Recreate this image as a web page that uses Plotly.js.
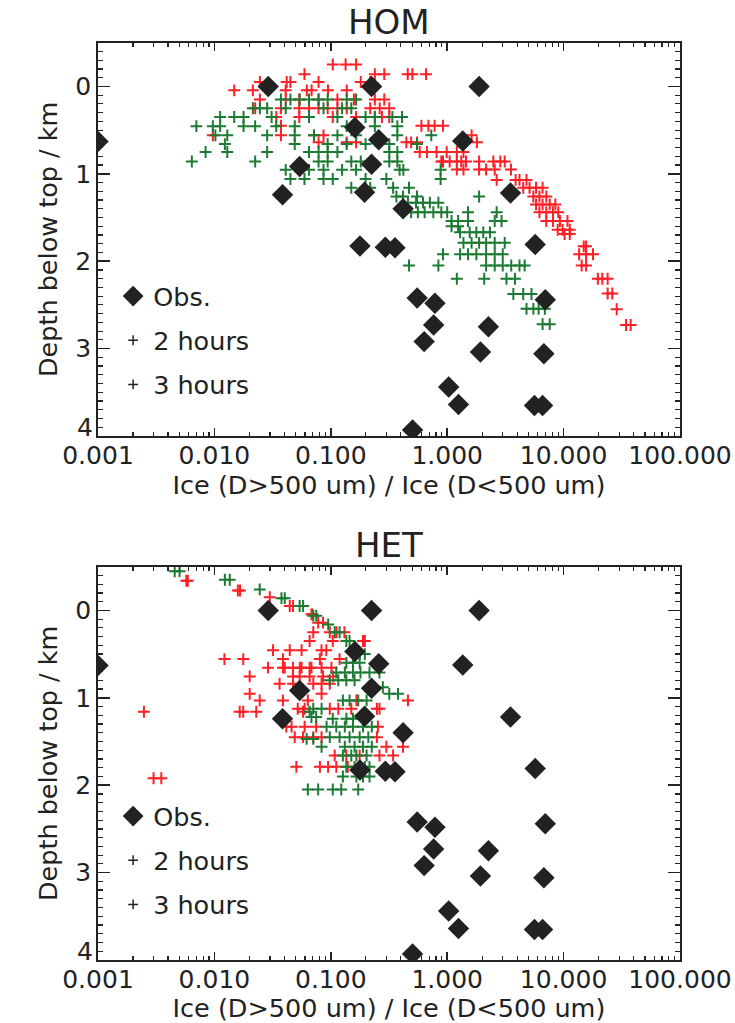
<!DOCTYPE html>
<html>
<head>
<meta charset="utf-8">
<script src="https://cdn.plot.ly/plotly-3.0.1.min.js"></script>
<style>html,body{margin:0;padding:0;background:#fff;}#chart{width:735px;height:1023px;}#err{position:absolute;left:0;top:0;font:11px monospace;color:#c00;white-space:pre-wrap;width:735px;}</style>
</head>
<body>
<div id="chart"></div>
<div id="err"></div>
<script>
window.onerror = function(m, s, l, c, e) { document.getElementById("err").textContent += "ERR: " + m + " @" + l + ":" + c + "\n"; };
// ---------- data ----------
const xTickVals = [0.001, 0.01, 0.1, 1, 10, 100];
const xTickText = ["0.001", "0.010", "0.100", "1.000", "10.000", "100.000"];
const yTickVals = [0, 1, 2, 3, 4];
const yTickText = ["0", "1", "2", "3", ""];
const yLastTickText = "4";
const panelTitles = ["HOM", "HET"];
const seriesNames = ["Obs.", "2 hours", "3 hours"];

// observations (same in both panels)
const obsRatio = [0.029,0.224,1.88,0.001,0.161,0.258,1.36,0.224,0.054,0.0385,0.195,3.5,0.418,0.178,0.294,0.356,5.7,0.552,0.785,6.96,0.765,2.26,0.634,1.93,6.77,1.03,1.25,5.62,6.6,0.504];
const obsDepth = [0,0,0,0.63,0.47,0.61,0.625,0.89,0.917,1.24,1.21,1.22,1.40,1.826,1.84,1.845,1.81,2.42,2.48,2.44,2.73,2.75,2.92,3.04,3.06,3.44,3.64,3.65,3.65,3.93];

// HOM, 2 hours (red): model levels and ratios at each level
const homRedLevels = [-0.25,-0.14,-0.05,0.045,0.15,0.25,0.35,0.45,0.56,0.64,0.75,0.86,0.95,1.07,1.16,1.26,1.35,1.44,1.54,1.64,1.69,1.83,1.92,2.05,2.2,2.37,2.55,2.73];
const homRedRatios = [
  [0.104,0.134,0.165],
  [0.0594,0.239,0.288,0.458,0.502,0.658],
  [0.0246,0.0418,0.045,0.0785,0.181,0.218],
  [0.0148,0.0214,0.041,0.0622,0.0684,0.0946,0.137],
  [0.0246,0.041,0.0536,0.0785,0.114,0.158,0.239,0.288],
  [0.0224,0.0373,0.0536,0.065,0.0785,0.094,0.114,0.137,0.218,0.263,0.318],
  [0.034,0.0536,0.104,0.165,0.239,0.275,0.318],
  [0.0373,0.6,0.69,0.78,0.92],
  [0.0097,0.0373,0.0717,0.0866,1.62],
  [0.0785,0.137,0.165,0.446,0.49,0.55,1.8],
  [0.58,0.67,0.81,0.99,1.21,1.38],
  [0.89,0.92,1.05,1.21,1.32,1.45,1.88,2.49,2.86,3.12],
  [1.21,1.38,1.88,2.16,2.56,3.53],
  [2.66,3.87,4.18,4.8],
  [4.5,5.1,5.8,6.6],
  [5.5,6.2,7.1],
  [5.8,6.6,7.6,8.5],
  [6.2,7.1,8.1,9.0],
  [7.1,8.1,9.3,10.8],
  [8.9,9.8,11.3],
  [10.2,11.3],
  [14.9,15.6],
  [13.6,15.6,17.9],
  [14.3,15.6],
  [19.7,21.5,23.9],
  [23.9,26.2],
  [28.6],
  [34.4,37.7]
];

// HOM, 3 hours (green)
const homGreenLevels = [0.15,0.25,0.35,0.455,0.56,0.66,0.75,0.86,0.955,1.06,1.16,1.26,1.33,1.44,1.54,1.6,1.67,1.79,1.92,2.05,2.2,2.375,2.545,2.72];
const homGreenRatios = [
  [0.0373,0.045,0.054,0.065,0.0785,0.094,0.137,0.165],
  [0.0214,0.0246,0.0284,0.041,0.0866,0.125,0.15],
  [0.0112,0.0148,0.0178,0.031,0.065,0.114,0.199,0.239,0.338,0.409],
  [0.007,0.0097,0.0112,0.0178,0.0224,0.034,0.049,0.137,0.239,0.373],
  [0.0102,0.0129,0.0284,0.049,0.0717,0.114,0.165,0.373,0.73],
  [0.0123,0.049,0.094,0.137,0.199,0.318,0.55],
  [0.0084,0.0129,0.0284,0.065,0.0785,0.094,0.114,0.318,0.373],
  [0.0064,0.0224,0.0785,0.094,0.15,0.181,0.318,0.373],
  [0.041,0.065,0.0866,0.125,0.165,0.39,0.42,0.878],
  [0.045,0.0594,0.0866,0.104,0.199,0.3,0.878],
  [0.15,0.218,0.343,0.47],
  [0.366,0.417,0.55,1.88],
  [0.46,0.54,0.62,0.71,0.84],
  [0.49,0.56,0.64,0.76,0.89,1.0,1.51,2.66],
  [1.09,1.24,1.51,2.56,2.93],
  [1.09,1.24],
  [1.29,1.56,1.78,2.04,2.33],
  [1.38,1.62,1.88,2.16,2.56,3.12],
  [0.92,1.29,1.51,1.78,2.16,2.56,3.0],
  [0.47,0.84,2.16,2.56,3.0,3.55,4.18,4.63],
  [1.21,2.08,3.23,3.82],
  [3.7,4.5,5.3],
  [4.8,5.5,6.1,6.9],
  [6.6,7.6]
];

// HET, 2 hours (red)
const hetRedLevels = [-0.34,-0.227,-0.15,-0.05,0.045,0.14,0.25,0.35,0.455,0.557,0.655,0.755,0.84,0.955,1.03,1.125,1.16,1.33,1.45,1.56,1.66,1.79,1.92];
const hetRedRatios = [
  [0.00574,0.0059],
  [0.0159,0.0166],
  [0.0299],
  [0.0444,0.0474],
  [0.0682,0.0696],
  [0.0779,0.0858],
  [0.0707,0.098,0.112,0.131],
  [0.0658,0.104,0.189,0.196],
  [0.0319,0.0444,0.0561,0.0832,0.0915],
  [0.0122,0.0177,0.0388,0.0806,0.119],
  [0.0289,0.0388,0.0402,0.0474,0.0542,0.0561,0.0658,0.0682,0.0833,0.1013],
  [0.0201,0.0474,0.054,0.0658,0.0858,0.1047],
  [0.0363,0.0474,0.0707,0.0833,0.098],
  [0.0201,0.0833],
  [0.0245,0.0388,0.0635,0.166,0.46],
  [0.052,0.0596,0.098,0.116,0.15,0.249,0.262],
  [0.00248,0.0165,0.0177,0.0229,0.0578],
  [0.0415,0.046,0.0596,0.0749,0.254],
  [0.049,0.0578,0.0707,0.0833,0.249],
  [0.3,0.417],
  [0.108,0.136,0.177,0.262,0.343],
  [0.0506,0.0806,0.0948,0.1115,0.14],
  [0.003,0.0035]
];

// HET, 3 hours (green)
const hetGreenLevels = [-0.447,-0.35,-0.24,-0.14,-0.05,0.06,0.16,0.25,0.35,0.5,0.6,0.71,0.8,0.88,0.955,1.03,1.125,1.16,1.22,1.24,1.33,1.45,1.47,1.56,1.66,1.79,1.9,2.05];
const hetGreenRatios = [
  [0.00456,0.00502],
  [0.0123,0.01355],
  [0.0245],
  [0.0377,0.0402],
  [0.054,0.0578],
  [0.0707,0.075],
  [0.095],
  [0.108,0.119],
  [0.136,0.145],
  [0.16,0.177,0.196],
  [0.136,0.155,0.177],
  [0.1115,0.132,0.155,0.18,0.215,0.262],
  [0.098,0.116,0.136,0.16],
  [0.28],
  [0.318,0.378],
  [0.127,0.145,0.172,0.203],
  [0.0707,0.0833],
  [0.0658],
  [0.0682,0.0749],
  [0.104,0.136,0.155,0.196],
  [0.092,0.1115,0.132,0.155,0.189,0.225],
  [0.098,0.119,0.145,0.177,0.21],
  [0.062,0.0707],
  [0.0833,0.132,0.16,0.189,0.225],
  [0.127,0.15,0.166,0.203],
  [0.136,0.16,0.196,0.215],
  [0.127,0.166,0.189,0.215],
  [0.0635,0.0779,0.104,0.123,0.172]
];

// ---------- helpers ----------
function flatten(levels, rows) {
  const x = [], y = [];
  rows.forEach((r, i) => r.forEach(v => { x.push(v); y.push(levels[i]); }));
  return {x, y};
}

const FONT = "DejaVu Sans, Liberation Sans, Arial, sans-serif";
const INK = "#222222";
const RED = "#ff1f26";
const GREEN = "#1d7a33";

function plusTrace(d, color, xa, ya) {
  return {type: "scatter", mode: "markers", x: d.x, y: d.y, xaxis: xa, yaxis: ya,
    showlegend: false, hoverinfo: "x+y",
    marker: {symbol: "cross-thin", size: 8.5, color: color, line: {color: color, width: 2}}};
}
function obsTrace(xa, ya, leg) {
  return {type: "scatter", mode: "markers", x: obsRatio, y: obsDepth, xaxis: xa, yaxis: ya,
    name: seriesNames[0], legend: leg, legendgroup: leg + "a",
    marker: {symbol: "diamond", size: 16.5, color: INK}};
}
function legendPlus(name, xa, ya, leg, g) {
  return {type: "scatter", mode: "markers", x: [null], y: [null], xaxis: xa, yaxis: ya,
    name: name, legend: leg, legendgroup: leg + g,
    marker: {symbol: "cross-thin", size: 7, color: INK, line: {color: INK, width: 1.5}}};
}

const homRed = flatten(homRedLevels, homRedRatios);
const homGreen = flatten(homGreenLevels, homGreenRatios);
const hetRed = flatten(hetRedLevels, hetRedRatios);
const hetGreen = flatten(hetGreenLevels, hetGreenRatios);

const traces = [
  plusTrace(homRed, RED, "x", "y"),
  plusTrace(homGreen, GREEN, "x", "y"),
  obsTrace("x", "y", "legend"),
  legendPlus(seriesNames[1], "x", "y", "legend", "b"),
  legendPlus(seriesNames[2], "x", "y", "legend", "c"),
  plusTrace(hetRed, RED, "x2", "y2"),
  plusTrace(hetGreen, GREEN, "x2", "y2"),
  obsTrace("x2", "y2", "legend2"),
  legendPlus(seriesNames[1], "x2", "y2", "legend2", "b"),
  legendPlus(seriesNames[2], "x2", "y2", "legend2", "c")
];

const H = 1023;
const py = px => 1 - px / H;

function xAxis(anchor) {
  return {type: "log", range: [-3, 2], anchor: anchor, domain: [0, 1],
    tickmode: "array", tickvals: xTickVals, ticktext: xTickText,
    ticks: "inside", ticklen: 8, tickwidth: 1.5, tickcolor: INK,
    showline: true, linecolor: INK, linewidth: 1.8, mirror: "ticks",
    showgrid: false, zeroline: false, ticklabelstandoff: -4,
    minor: {ticks: "inside", ticklen: 4, tickwidth: 1.2, tickcolor: INK, dtick: "D1", showgrid: false},
    tickfont: {family: FONT, size: 25, color: INK},
    title: {text: "Ice (D>500 um) / Ice (D<500 um)", font: {family: FONT, size: 25.5, color: INK}, standoff: 4}};
}
function yAxis(anchor, dom) {
  return {range: [4, -0.5], anchor: anchor, domain: dom,
    tickmode: "array", tickvals: yTickVals, ticktext: yTickText,
    ticks: "inside", ticklen: 12, tickwidth: 1.5, tickcolor: INK,
    showline: true, linecolor: INK, linewidth: 1.8, mirror: "ticks",
    showgrid: false, zeroline: false,
    minor: {ticks: "inside", ticklen: 5, tickwidth: 1.2, tickcolor: INK, dtick: 0.1, tick0: 0, showgrid: false},
    tickfont: {family: FONT, size: 25, color: INK},
    title: {text: "Depth below top / km", font: {family: FONT, size: 25.5, color: INK}, standoff: 10}};
}
function legendCfg(topPx) {
  return {x: 0.026, xanchor: "left", y: py(topPx), yanchor: "top", bgcolor: "rgba(0,0,0,0)",
    borderwidth: 0, font: {family: FONT, size: 25.5, color: INK}, tracegroupgap: 8,
    itemsizing: "trace", traceorder: "grouped"};
}
function lastTickLabel(yref) {
  return {text: yLastTickText, xref: "paper", yref: yref, x: 0, y: 3.9, xanchor: "right", yanchor: "middle",
    xshift: -3, showarrow: false, font: {family: FONT, size: 25, color: INK}};
}

const layout = {
  width: 735, height: H,
  margin: {l: 98, r: 55, t: 0, b: 0, pad: 0},
  paper_bgcolor: "#ffffff", plot_bgcolor: "#ffffff",
  showlegend: true,
  font: {family: FONT, color: INK},
  xaxis: xAxis("y"),
  yaxis: yAxis("x", [py(436), py(42.7)]),
  xaxis2: xAxis("y2"),
  yaxis2: yAxis("x2", [py(960), py(566.7)]),
  legend: legendCfg(273),
  legend2: legendCfg(793),
  annotations: [
    {text: panelTitles[0], xref: "paper", yref: "paper", x: 0.5, y: py(22), xanchor: "center", yanchor: "middle",
     showarrow: false, font: {family: FONT, size: 34, color: INK}},
    {text: panelTitles[1], xref: "paper", yref: "paper", x: 0.5, y: py(545), xanchor: "center", yanchor: "middle",
     showarrow: false, font: {family: FONT, size: 34, color: INK}},
    lastTickLabel("y"),
    lastTickLabel("y2")
  ]
};

Plotly.newPlot("chart", traces, layout, {displayModeBar: false, staticPlot: true})
  .catch(e => { document.getElementById("err").textContent += "PROMISE: " + e + "\n"; });
</script>
</body>
</html>
